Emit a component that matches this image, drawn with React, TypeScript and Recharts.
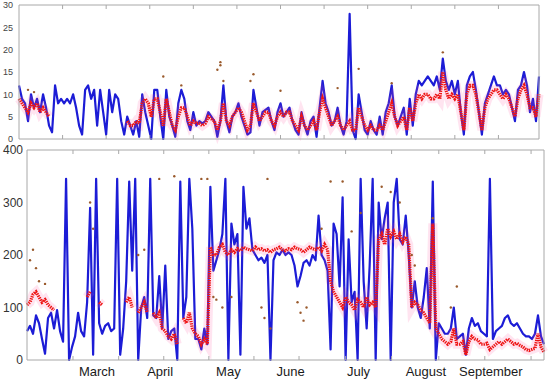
import React from 'react';
import { ComposedChart, Line, XAxis, YAxis } from 'recharts';

// upper panel, one value per ~3px step of time
const topBlue = [
  12, 9, 8, 4, 10, 7, 9, 6, 10, 7,
  3, 1.5, 12, 8, 9, 8, 9, 8, 10, 7,
  3, 1, 11, 12, 9, 11, 3, 11, 6, 1,
  11, 6, 10, 9, 4, 1, 5, 3, 1, 4,
  0.5, 10, 6, 3, 0, 11, 11, 5, 0, 11,
  5, 3, 0.5, 8, 11, 9, 4, 2, 6, 3,
  4, 3.5, 4, 6, 5, 4, 0.5, 4, 12, 4,
  1.5, 5, 6, 8, 5, 3, 1, 1.5, 11, 7,
  3, 6, 6.5, 7, 4, 2, 6, 8, 5, 6,
  7, 4, 2, 1, 6, 3, 1, 4, 5, 0.5,
  7, 13, 8, 6, 3, 4, 7, 3, 1, 4,
  28, 2, 0, 10, 6, 2, 1, 4, 2, 1,
  5, 1, 6, 8, 12, 5, 3, 5, 7, 1,
  9, 3, 10, 13, 12, 13, 14, 13, 12, 14,
  11, 18, 13, 11, 13, 10, 13, 6, 1, 12,
  14, 15, 11, 6, 1, 8, 10, 12, 14, 12,
  12, 10, 11, 10, 7, 4, 11, 12, 15, 12,
  6, 9, 4, 14,
];

const _ = null;
const topRed = [
  9, 8, 7, 6, 8, 7, 8, 6, 7, 6,
  5, _, _, _, _, _, _, _, _, _,
  _, _, _, _, _, _, _, _, _, _,
  _, _, _, _, _, _, 4, 3, 3, 4,
  3.5, 8, 9, 8, 5, 9, 9, 6, 3, 9,
  6, 3, 2, 5, 7, 7, 5, 3, 4, 3.5,
  3.5, 3, 3.5, 5, 4.5, 4, 2, 4, 8, 4,
  3, 5, 6, 7, 6, 4, 2, 3, 8, 6,
  4, 5, 6, 6, 4, 3, 5, 6, 5, 6,
  6, 4, 3, 2, 5, 3, 2, 3, 4, 2,
  6, 9, 7, 5, 3, 4, 5, 3, 2, 3,
  4, 2, 2, 7, 5, 3, 2, 3, 2, 2,
  3, 2, 4, 6, 8, 5, 3, 4, 5, 2,
  7, 4, 8, 10, 9, 10, 10, 9, 9, 10,
  9, 15, 11, 9, 10, 9, 10, 6, 2, 10,
  12, 12, 10, 6, 2, 7, 9, 10, 11, 11,
  10, 9, 10, 9, 7, 5, 9, 11, 12, 10,
  7, 7, 5, 10,
];

const topOddIdx = [48, 54, 66, 67, 67, 68, 77, 78, 87, 106, 113, 124, 141, 3, 5];
const topOddVal = [14, 12, 15.5, 17.2, 16.5, 13, 13, 14.5, 10.8, 11.4, 15.7, 12.5, 19.4, 11, 10.5];

// lower panel
const botBlue = [
  55, 65, 50, 85, 70, 40, 12, 80, 90, 60,
  95, 55, 35, 345, 0, 25, 45, 90, 55, 45,
  110, 290, 10, 345, 70, 50, 65, 70, 55, 60,
  345, 10, 60, 150, 340, 170, 345, 0, 100, 120,
  80, 345, 85, 80, 160, 60, 180, 40, 55, 60,
  0, 340, 80, 120, 345, 250, 40, 40, 20, 60,
  30, 330, 170, 190, 210, 240, 345, 0, 260, 220,
  240, 10, 330, 250, 270, 210, 200, 190, 195, 185,
  200, 0, 190, 205, 200, 210, 200, 205, 200, 180,
  140, 160, 185, 190, 180, 200, 190, 275, 200, 190,
  170, 20, 260, 240, 140, 310, 0, 230, 110, 130,
  0, 345, 150, 60, 180, 345, 0, 300, 230, 270,
  300, 0, 300, 345, 230, 220, 275, 200, 100, 150,
  100, 80, 120, 175, 60, 340, 0, 70, 60, 50,
  50, 60, 100, 40, 45, 50, 10, 60, 80, 65,
  70, 55, 50, 45, 345, 40, 55, 60, 65, 80,
  85, 70, 65, 70, 60, 50, 45, 45, 40, 50,
  85, 45, 30,
];

const botRed = [
  105, 110, 125, 130, 120, 110, 115, 105, 100, 95,
  _, _, _, _, _, _, _, _, _, _,
  120, 130, _, _, 110, 105, _, _, _, _,
  _, _, _, 110, 120, 100, _, 90, 100, 110,
  90, _, 90, 80, 90, 60, 55, 45, 40, 50,
  30, _, 80, 70, 90, 60, 50, 45, 30, 40,
  30, 215, 200, 200, 215, 220, 205, 200, 210, 205,
  212, 208, 215, 212, 210, 208, 215, 210, 212, 208,
  210, 205, 210, 212, 215, 210, 208, 212, 210, 215,
  212, 210, 205, 210, 215, 212, 210, 215, 208, 220,
  210, 150, 130, 120, 110, 100, 120, 110, 105, 95,
  115, 110, 100, 120, 105, 110, 100, 230, 240, 220,
  250, 235, 245, 230, 240, 225, 235, 220, 100, 110,
  105, 95, 90, 80, 70, 260, 60, 50, 40, 35,
  30, 35, 60, 30, 30, 35, 10, 35, 45, 40,
  38, 30, 30, 32, 20, 25, 30, 35, 30, 35,
  40, 35, 30, 32, 28, 25, 20, 18, 20, 22,
  50, 25, 15,
];

const botOddIdx = [1, 2, 3, 4, 6, 21, 22, 37, 39, 44, 49, 58, 60, 62, 63, 65, 68, 78, 79, 81, 80, 90, 91, 92, 93, 98, 101, 105, 108, 111, 118, 121, 124, 128, 129, 135, 141, 143];
const botOddVal = [190, 210, 175, 150, 145, 300, 250, 200, 210, 345, 350, 345, 345, 120, 115, 100, 120, 100, 80, 60, 345, 110, 90, 75, 100, 250, 340, 340, 245, 280, 330, 320, 300, 200, 180, 270, 100, 140];

const topYTicks = [0, 5, 10, 15, 20, 25, 30];
const botYTicks = [0, 100, 200, 300, 400];
const topMarks = [14.5, 29, 43.5, 58, 72.5, 87, 101.5, 116, 130.5, 145, 159.5];
const botMarks = [15.3, 30.5, 45.5, 60.5, 75.5, 90.5, 106, 121.3, 137, 152.3, 167.7];
const months = ['March', 'April', 'May', 'June', 'July', 'August', 'September'];
const monthPos = [23.3, 44.3, 67, 87.7, 110.3, 132.7, 154.3];

const AXIS = '#a8a8a8';
const BLUE = '#1c1cd6';
const RED = '#ee1515';
const ODD = '#9a5a2c';
const FONT = '"Liberation Sans", Arial, sans-serif';

function buildRows(blue: number[], red: (number | null)[], oddIdx: number[], oddVal: number[]) {
  const rows = blue.map((b, i) => ({ i, blue: b, red: red[i] ?? null, odd: null as number | null, odd2: null as number | null }));
  oddIdx.forEach((idx, k) => {
    const r = rows[idx];
    if (!r) return;
    if (r.odd == null) r.odd = oddVal[k];
    else r.odd2 = oddVal[k];
  });
  return rows;
}

const topRows = buildRows(topBlue, topRed, topOddIdx, topOddVal);
const botRows = buildRows(botBlue, botRed, botOddIdx, botOddVal);

const markDown = (p: any) => <line x1={p.x} x2={p.x} y1={p.y} y2={p.y + 4} stroke={AXIS} />;
const markUp = (p: any) => <line x1={p.x} x2={p.x} y1={p.y} y2={p.y - 4} stroke={AXIS} />;
const markLeft = (p: any) => <line x1={p.x} x2={p.x - 4} y1={p.y} y2={p.y} stroke={AXIS} />;

const monthTick = (p: any) => {
  const k = monthPos.indexOf(p.payload.value);
  if (k < 0) return <line x1={p.x} x2={p.x} y1={p.y} y2={p.y - 4} stroke={AXIS} />;
  return (
    <text x={p.x} y={p.y + 16} textAnchor="middle" fontSize={13} fill="#1a1a1a" fontFamily={FONT}>
      {months[k]}
    </text>
  );
};

const oddDot = { r: 1.2, fill: ODD, stroke: 'none' };

function series() {
  return [
    <Line key="b" xAxisId="b" yAxisId="l" dataKey="blue" stroke={BLUE} strokeWidth={2.2} dot={false} strokeLinejoin="round" isAnimationActive={false} />,
    <Line key="halo" xAxisId="b" yAxisId="l" dataKey="red" stroke="#ff5aa0" strokeOpacity={0.16} strokeWidth={9} dot={false} connectNulls={false} isAnimationActive={false} />,
    <Line key="r" xAxisId="b" yAxisId="l" dataKey="red" stroke={RED} strokeWidth={3.2} strokeDasharray="1.4 0.9" dot={false} connectNulls={false} isAnimationActive={false} />,
    <Line key="o1" xAxisId="b" yAxisId="l" dataKey="odd" stroke="none" dot={oddDot} isAnimationActive={false} />,
    <Line key="o2" xAxisId="b" yAxisId="l" dataKey="odd2" stroke="none" dot={oddDot} isAnimationActive={false} />,
  ];
}

export default function App() {
  const nTop = topBlue.length - 1;
  const nBot = botBlue.length - 1;
  return (
    <div style={{ position: 'absolute', left: 0, top: 0, width: 550, height: 383, background: '#fff', fontFamily: FONT }}>
      <div style={{ position: 'absolute', left: 0, top: 0 }}>
        <ComposedChart width={550} height={145} data={topRows} margin={{ top: 4, right: 10, bottom: 5, left: 0 }}>
          <XAxis xAxisId="t" orientation="top" type="number" dataKey="i" domain={[0, nTop]} ticks={topMarks} interval={0} height={1} tickSize={0} tickMargin={0} tick={markDown} stroke={AXIS} />
          <XAxis xAxisId="b" type="number" dataKey="i" domain={[0, nTop]} ticks={topMarks} interval={0} height={1} tickSize={0} tickMargin={0} tick={markUp} stroke={AXIS} />
          <YAxis yAxisId="l" domain={[0, 30]} ticks={topYTicks} width={19} tickLine={false} tickSize={0} tickMargin={6} stroke={AXIS} tick={{ fontSize: 9, fill: '#444' }} interval={0} />
          <YAxis yAxisId="r" orientation="right" domain={[0, 30]} ticks={topYTicks} width={1} tickSize={0} tickMargin={0} tick={markLeft} stroke={AXIS} interval={0} />
          {series()}
        </ComposedChart>
      </div>
      <div style={{ position: 'absolute', left: 0, top: 140 }}>
        <ComposedChart width={550} height={243} data={botRows} margin={{ top: 9, right: 5, bottom: 0, left: 0 }}>
          <XAxis xAxisId="t" orientation="top" type="number" dataKey="i" domain={[0, nBot]} ticks={botMarks} interval={0} height={1} tickSize={0} tickMargin={0} tick={markDown} stroke={AXIS} />
          <XAxis xAxisId="b" type="number" dataKey="i" domain={[0, nBot]} ticks={[...botMarks, ...monthPos].sort((a, b) => a - b)} interval={0} height={23} tickSize={0} tickMargin={0} tick={monthTick} stroke={AXIS} />
          <YAxis yAxisId="l" domain={[0, 400]} ticks={botYTicks} width={27} tickLine={false} tickSize={0} tickMargin={4} stroke={AXIS} tick={{ fontSize: 12, fill: '#333' }} interval={0} />
          <YAxis yAxisId="r" orientation="right" domain={[0, 400]} ticks={botYTicks} width={1} tickSize={0} tickMargin={0} tick={markLeft} stroke={AXIS} interval={0} />
          {series()}
        </ComposedChart>
      </div>
    </div>
  );
}
